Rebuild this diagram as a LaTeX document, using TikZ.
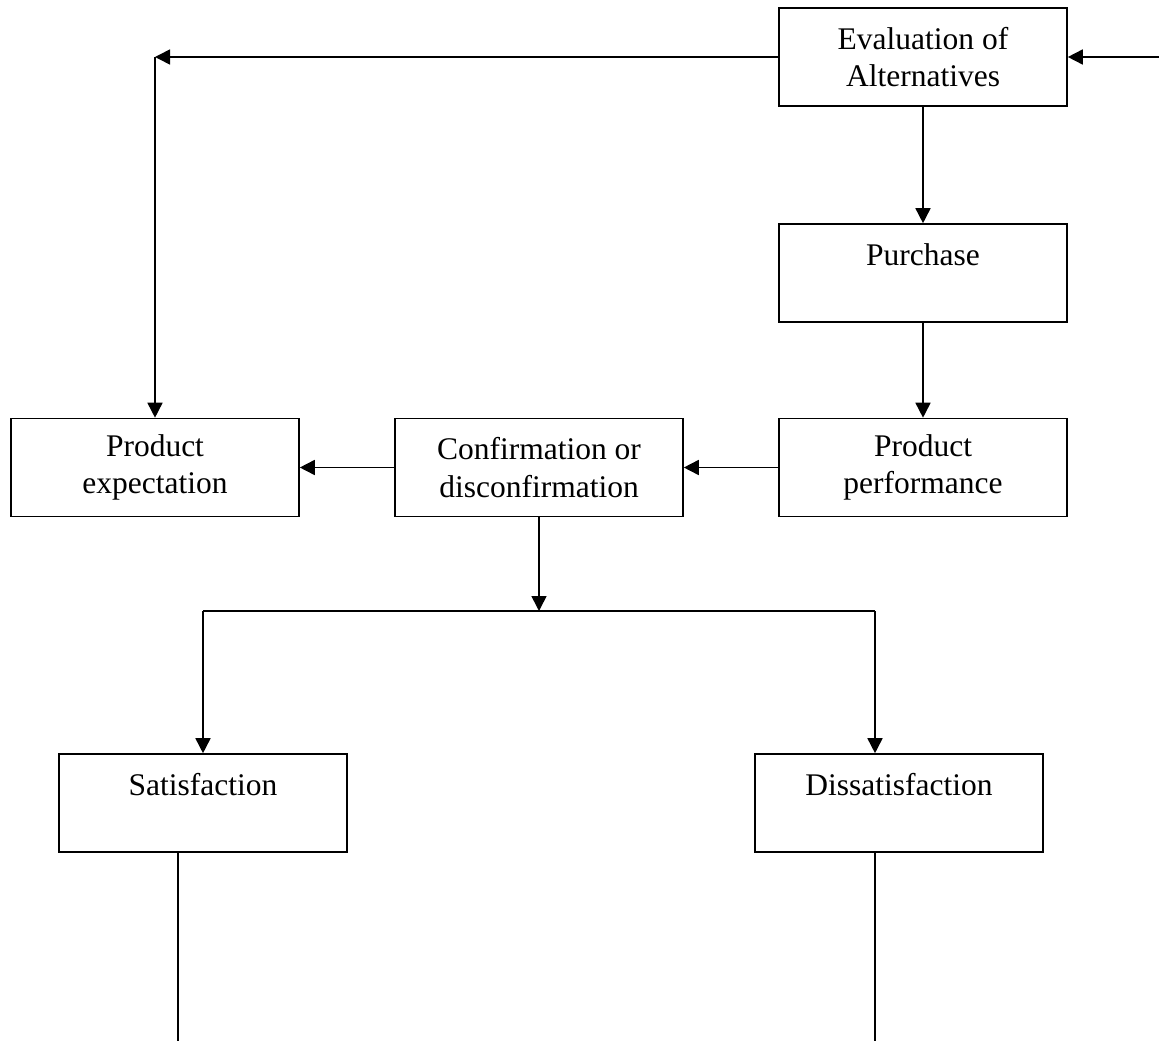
\documentclass[tikz,border=0pt]{standalone}
\usepackage{fontspec}
\setmainfont{Liberation Serif}
\usetikzlibrary{arrows.meta}
\begin{document}
\begin{tikzpicture}[x=1pt,y=-1pt,
  box/.style={draw, line width=1.6pt, minimum width=288pt, minimum height=98pt,
    inner sep=0pt, align=center, font=\fontsize{31.5}{37.8}\selectfont},
  conn/.style={line width=1.6pt},
  arr/.style={conn, -{Triangle[length=15pt,width=15pt]}}]
\useasboundingbox (0,0) rectangle (1159,1041);
\node[box] (eval) at (923,57) {Evaluation of\\Alternatives};
\node[box] (purch) at (923,273) {Purchase\\~};
\node[box] (perf) at (923,467.5) {Product\\performance};
\node[box] (conf) at (539,467.5) {Confirmation or\\disconfirmation};
\node[box] (expect) at (155,467.5) {Product\\expectation};
\node[box] (sat) at (203,803) {Satisfaction\\~};
\node[box] (dis) at (899,803) {Dissatisfaction\\~};
\coordinate (inR) at (1159,57);
\coordinate (cL) at (155,57);
\coordinate (split) at (539,611);
\coordinate (hl) at (203,611);
\coordinate (hr) at (875,611);
\coordinate (sOut) at (178,1041);
\coordinate (dOut) at (875,1041);
\draw[arr] (inR) -- (eval.east);
\draw[arr] (eval.west) -- (cL);
\draw[arr] (cL) -- (expect.north);
\draw[arr] (eval.south) -- (purch.north);
\draw[arr] (purch.south) -- (perf.north);
\draw[arr] (perf.west) -- (conf.west -| conf.east);
\draw[arr] (conf.west) -- (expect.east);
\draw[arr] (conf.south) -- (split);
\draw[conn] (hl) -- (hr);
\draw[arr] (hl) -- (sat.north);
\draw[arr] (hr) -- (hr |- dis.north);
\draw[conn] (sOut |- sat.south) -- (sOut);
\draw[conn] (dOut |- dis.south) -- (dOut);
\end{tikzpicture}
\end{document}
